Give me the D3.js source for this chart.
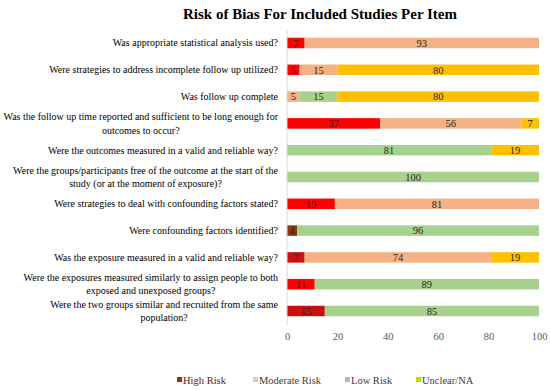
<!DOCTYPE html>
<html>
<head>
<meta charset="utf-8">
<script src="https://cdn.jsdelivr.net/npm/d3@7"></script>
<style>
  body { margin: 0; background: #fff; }
  svg { display: block; }
</style>
</head>
<body>
<svg id="chart" width="550" height="391"></svg>
<script>
// ---------- DATA ----------
const items = [
  "Was appropriate statistical analysis used?",
  "Were strategies to address incomplete follow up utilized?",
  "Was follow up complete",
  "Was the follow up time reported and sufficient to be long enough for|outcomes to occur?",
  "Were the outcomes measured in a valid and reliable way?",
  "Were the groups/participants free of the outcome at the start of the|study (or at the moment of exposure)?",
  "Were strategies to deal with confounding factors stated?",
  "Were confounding factors identified?",
  "Was the exposure measured in a valid and reliable way?",
  "Were the exposures measured similarly to assign people to both|exposed and unexposed groups?",
  "Were the two groups similar and recruited from the same|population?"
];
const seriesNames = ["High Risk", "Moderate Risk", "Low Risk", "Unclear/NA"];
const highRisk     = [7, 5, 0, 37, 0, 0, 19, 4, 7, 11, 15];
const moderateRisk = [93, 15, 5, 56, 0, 0, 81, 0, 74, 0, 0];
const lowRisk      = [0, 0, 15, 0, 81, 100, 0, 96, 0, 89, 85];
const unclearNA    = [0, 80, 80, 7, 19, 0, 0, 0, 19, 0, 0];
const xTicks = [0, 20, 40, 60, 80, 100];
const title = "Risk of Bias For Included Studies Per Item";

// ---------- STYLE ----------
const barColors = ["#ff0000", "#f4b183", "#a9d18e", "#ffc000"];
const legendColors = ["#843c0c", "#d6d6a0", "#a9c79a", "#c8d800"];
const highOverride = { 7: "#843c0c", 8: "#d01010", 10: "#c81010" };
const serif = "'Liberation Serif', 'Times New Roman', serif";

const svg = d3.select("#chart");
const x = d3.scaleLinear().domain([0, 100]).range([287, 539]);
const y = d3.scaleBand().domain(d3.range(items.length)).range([30, 324])
  .paddingInner(0.608).paddingOuter(0.289);

// title
svg.append("text")
  .attr("x", 320).attr("y", 19)
  .attr("text-anchor", "middle")
  .style("font-family", serif).style("font-weight", "bold").style("font-size", "15px")
  .attr("fill", "#000")
  .text(title);

// data table
const table = items.map((it, i) => ({
  idx: i, item: it,
  "High Risk": highRisk[i], "Moderate Risk": moderateRisk[i],
  "Low Risk": lowRisk[i], "Unclear/NA": unclearNA[i]
}));
const stacked = d3.stack().keys(seriesNames)(table);

// bars
stacked.forEach((layer, si) => {
  const g = svg.append("g");
  g.selectAll("rect").data(layer).enter().append("rect")
    .attr("x", d => x(d[0]))
    .attr("y", d => y(d.data.idx))
    .attr("width", d => x(d[1]) - x(d[0]))
    .attr("height", y.bandwidth())
    .attr("fill", d => (si === 0 && highOverride[d.data.idx]) ? highOverride[d.data.idx] : barColors[si]);
  g.selectAll("text").data(layer.filter(d => d[1] - d[0] > 0)).enter().append("text")
    .attr("x", d => (x(d[0]) + x(d[1])) / 2)
    .attr("y", d => y(d.data.idx) + y.bandwidth() / 2)
    .attr("dy", "0.36em")
    .attr("text-anchor", "middle")
    .style("font-family", serif).style("font-size", "10.5px")
    .attr("fill", "#262626")
    .text(d => d[1] - d[0]);
});

// y axis line
svg.append("line")
  .attr("x1", x(0)).attr("x2", x(0))
  .attr("y1", 30).attr("y2", 325)
  .attr("stroke", "#d9d9d9").attr("stroke-width", 1);

// category labels
const labelRight = 278;
items.forEach((it, i) => {
  const lines = it.split("|");
  const cy = y(i) + y.bandwidth() / 2;
  const lh = 13.5;
  const g = svg.append("g");
  const texts = lines.map((ln, li) => g.append("text")
    .attr("y", cy + (li - (lines.length - 1) / 2) * lh)
    .attr("dy", "0.35em")
    .style("font-family", serif).style("font-size", "10px")
    .attr("fill", "#000")
    .text(ln));
  const widths = texts.map(t => t.node().getComputedTextLength());
  const maxW = d3.max(widths);
  texts.forEach(t => t.attr("x", labelRight - maxW / 2).attr("text-anchor", "middle"));
});

// x axis
const xAxis = svg.append("g")
  .attr("transform", "translate(0,330)")
  .call(d3.axisBottom(x).tickValues(xTicks).tickSize(0).tickPadding(3));
xAxis.select(".domain").remove();
xAxis.selectAll("text")
  .style("font-family", serif).style("font-size", "10.5px").attr("fill", "#595959");

// legend
const legX = [177, 253, 345, 416];
const leg = svg.append("g");
seriesNames.forEach((s, i) => {
  leg.append("rect").attr("x", legX[i]).attr("y", 377).attr("width", 5).attr("height", 5)
    .attr("fill", legendColors[i]);
  leg.append("text").attr("x", legX[i] + 6).attr("y", 380).attr("dy", "0.35em")
    .style("font-family", serif).style("font-size", "10.5px")
    .attr("fill", i === 0 ? "#6b1020" : "#404040")
    .text(s);
});
</script>
</body>
</html>
